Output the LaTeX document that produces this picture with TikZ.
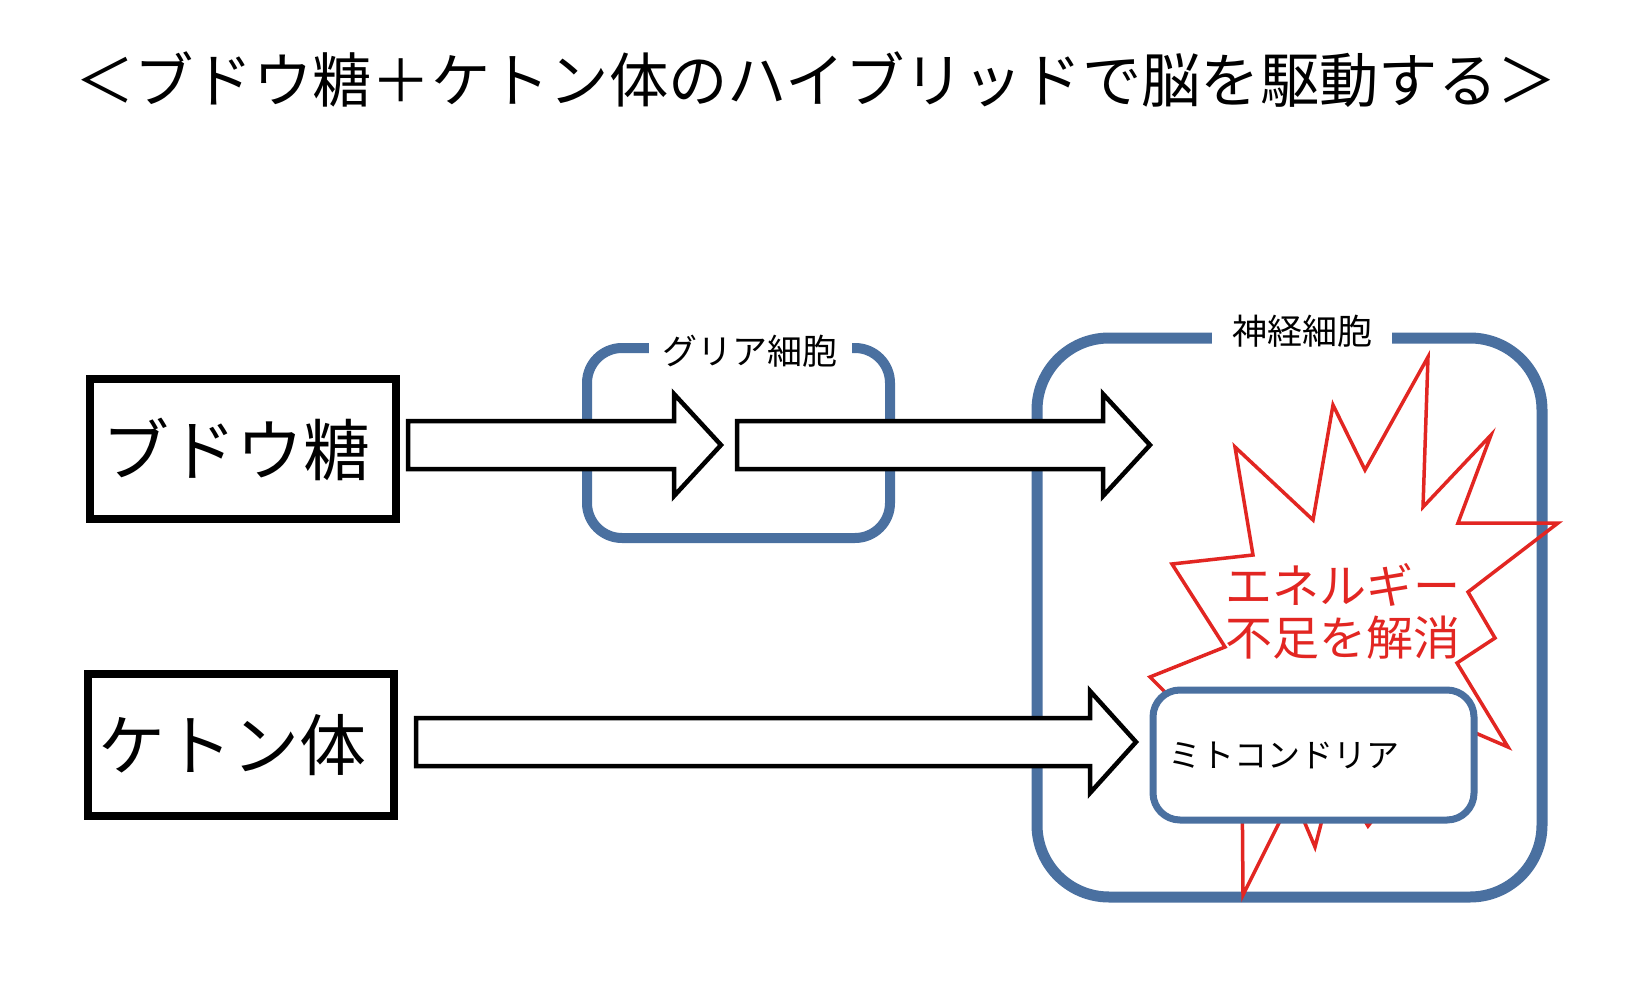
\documentclass[tikz,border=0pt]{standalone}
\usepackage{fontspec}
\newfontfamily\jp{Noto Sans CJK JP}
\usetikzlibrary{calc}
\definecolor{cellblue}{RGB}{74,112,160}
\definecolor{burstred}{RGB}{226,38,34}
\begin{document}
\begin{tikzpicture}[x=1pt,y=-1pt,
  titletext/.style={inner sep=0pt, font=\jp\fontsize{59.3}{63}\selectfont},
  inputbox/.style={draw=black, line width=8pt, minimum width=306pt, minimum height=140pt, inner sep=0pt, font=\jp\fontsize{67}{70}\selectfont},
  inputtext/.style={inner sep=0pt, font=\jp\fontsize{67}{70}\selectfont},
  blockarrow/.style={draw=black, fill=white, line width=4.5pt, miter limit=10},
  cellbox/.style={draw=cellblue, rounded corners=#1, inner sep=0pt},
  celllabel/.style={fill=white, inner ysep=3pt, font=\jp\fontsize{35}{38}\selectfont},
  burst/.style={draw=burstred, line width=3.5pt, line join=miter, miter limit=20},
  bursttext/.style={text=burstred, align=center, inner sep=0pt, font=\jp\fontsize{47}{52}\selectfont},
  mitobox/.style={draw=cellblue, fill=white, line width=7pt, rounded corners=27pt, inner xsep=15.5pt, inner ysep=0pt, minimum height=130pt, text width=290pt, align=left, font=\jp\fontsize{33}{36}\selectfont}
]
\useasboundingbox (0,0) rectangle (1646,992);
\fill[white] (0,0) rectangle (1646,992);

% title
\node[titletext] (title) at (816,80) {＜ブドウ糖＋ケトン体のハイブリッドで脳を駆動する＞};

% input boxes
\node[inputbox] (glu) at (243,449) {};
\node[inputtext] (glutext) at (236,449) {ブドウ糖};
\node[inputbox, minimum height=142pt] (ket) at (241,745) {};
\node[inputtext] (kettext) at (232,745) {ケトン体};

% glia cell
\node[cellbox=35pt, line width=10pt, minimum width=303pt, minimum height=190pt] (glia) at (738.5,443) {};
\node[celllabel, inner xsep=14pt] (glialabel) at (750,351) {グリア細胞};

% neuron
\node[cellbox=72pt, line width=11pt, minimum width=505pt, minimum height=559pt] (neuron) at (1289.5,617.5) {};
\node[celllabel, inner xsep=20pt] (neuronlabel) at (1302,331) {神経細胞};

% arrow end points
\coordinate (a1s) at (408,445);
\coordinate (a1t) at (721,445);
\coordinate (a2s) at (737,445);
\coordinate (a2t) at (1150,445);
\coordinate (a3s) at (416,742);
\coordinate (a3t) at (1136,742);

\draw[blockarrow] ($(a1s)+(0,-24)$) -- ($(a1t)+(-47,-24)$) -- ($(a1t)+(-47,-51)$) -- (a1t)
  -- ($(a1t)+(-47,51)$) -- ($(a1t)+(-47,24)$) -- ($(a1s)+(0,24)$) -- cycle;
\draw[blockarrow] ($(a2s)+(0,-24)$) -- ($(a2t)+(-47,-24)$) -- ($(a2t)+(-47,-51)$) -- (a2t)
  -- ($(a2t)+(-47,51)$) -- ($(a2t)+(-47,24)$) -- ($(a2s)+(0,24)$) -- cycle;
\draw[blockarrow] ($(a3s)+(0,-24)$) -- ($(a3t)+(-46,-24)$) -- ($(a3t)+(-46,-51)$) -- (a3t)
  -- ($(a3t)+(-46,51)$) -- ($(a3t)+(-46,24)$) -- ($(a3s)+(0,24)$) -- cycle;

% burst
\draw[burst] (1428,357) -- (1423,507) -- (1491,435) -- (1458,523) -- (1558,523)
  -- (1468,592) -- (1495,638) -- (1457,663) -- (1508,747) -- (1450,722)
  -- (1368,826) -- (1335,770) -- (1315,847) -- (1293,795) -- (1243,895)
  -- (1242,769) -- (1150,677) -- (1225,647) -- (1172,564) -- (1253,555)
  -- (1235,447) -- (1313,520) -- (1333,405) -- (1365,470) -- cycle;
\node[bursttext] (energy) at (1343,611) {エネルギー\\不足を解消};

% mitochondria
\node[mitobox] (mito) at (1313.5,755) {ミトコンドリア};
\end{tikzpicture}
\end{document}
